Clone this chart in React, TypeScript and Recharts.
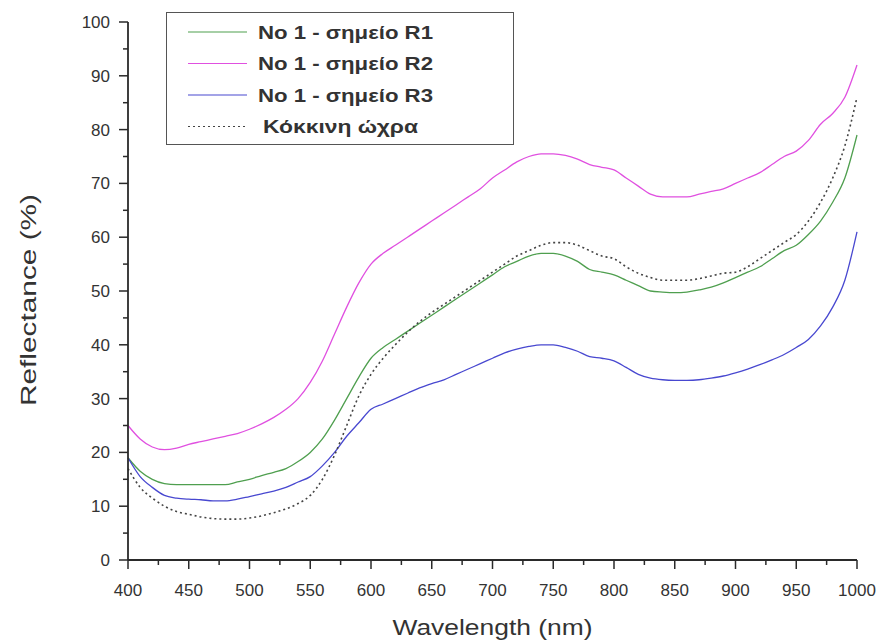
import React from 'react';
import { LineChart, Line, XAxis, YAxis, Legend, Label } from 'recharts';

// wavelength grid (nm)
const wavelengths = [
  400, 410, 420, 430, 440, 450, 460, 470, 480, 490, 500, 510, 520, 530, 540, 550, 560, 570, 580, 590,
  600, 610, 620, 630, 640, 650, 660, 670, 680, 690, 700, 710, 720, 730, 740, 750, 760, 770, 780, 790,
  800, 810, 820, 830, 840, 850, 860, 870, 880, 890, 900, 910, 920, 930, 940, 950, 960, 970, 980, 990, 1000,
];

// No 1 - σημείο R1
const r1 = [
  19, 16.5, 15, 14.2, 14, 14, 14, 14, 14, 14.5, 15, 15.7, 16.3, 17, 18.3, 20, 22.5, 26, 30, 34,
  37.5, 39.5, 41, 42.5, 44, 45.5, 47, 48.5, 50, 51.5, 53, 54.5, 55.5, 56.5, 57, 57, 56.5, 55.5, 54, 53.5,
  53, 52, 51, 50, 49.8, 49.7, 49.8, 50.2, 50.7, 51.5, 52.5, 53.5, 54.5, 56, 57.5, 58.5, 60.5, 63, 66.5, 71, 79,
];

// No 1 - σημείο R2
const r2 = [
  25, 22.5, 21, 20.5, 20.8, 21.5, 22, 22.5, 23, 23.5, 24.3, 25.3, 26.5, 28, 30, 33, 37, 42, 47, 51.5,
  55, 57, 58.5, 60, 61.5, 63, 64.5, 66, 67.5, 69, 71, 72.5, 74, 75, 75.5, 75.5, 75.2, 74.5, 73.5, 73,
  72.5, 71, 69.5, 68, 67.5, 67.5, 67.5, 68, 68.5, 69, 70, 71, 72, 73.5, 75, 76, 78, 81, 83, 86, 92,
];

// No 1 - σημείο R3
const r3 = [
  19, 15.5, 13.5, 12, 11.5, 11.3, 11.2, 11, 11, 11.3, 11.8, 12.3, 12.8, 13.5, 14.5, 15.5, 17.5, 20, 23, 25.5,
  28, 29, 30, 31, 32, 32.8, 33.5, 34.5, 35.5, 36.5, 37.5, 38.5, 39.2, 39.7, 40, 40, 39.5, 38.8, 37.8, 37.5,
  37, 35.8, 34.5, 33.8, 33.5, 33.4, 33.4, 33.5, 33.8, 34.2, 34.8, 35.5, 36.3, 37.2, 38.2, 39.5, 41, 43.5, 47, 52, 61,
];

// Κόκκινη ώχρα
const ochre = [
  17, 13.5, 11.5, 10, 9, 8.5, 8, 7.7, 7.6, 7.6, 7.8, 8.2, 8.8, 9.5, 10.5, 12, 15, 19.5, 25, 30.5,
  34.5, 37.5, 40, 42.3, 44.3, 46, 47.5, 49, 50.5, 52, 53.5, 55, 56.5, 57.5, 58.5, 59, 59, 58.5, 57.5, 56.5,
  56, 54.5, 53.3, 52.5, 52, 52, 52, 52.3, 52.8, 53.3, 53.5, 54.5, 56, 57.5, 59, 60.5, 63, 66.5, 71, 77, 86,
];

const xTicks = [400, 425, 450, 475, 500, 525, 550, 575, 600, 625, 650, 675, 700, 725, 750, 775, 800, 825, 850, 875, 900, 925, 950, 975, 1000];
const yTicks = [0, 5, 10, 15, 20, 25, 30, 35, 40, 45, 50, 55, 60, 65, 70, 75, 80, 85, 90, 95, 100];

const data = wavelengths.map((wl, i) => ({ wl, r1: r1[i], r2: r2[i], r3: r3[i], ochre: ochre[i] }));

const series = [
  { key: 'r1', name: 'No 1 - σημείο R1', color: '#4f9f4f', dash: undefined },
  { key: 'r2', name: 'No 1 - σημείο R2', color: '#e050e0', dash: undefined },
  { key: 'r3', name: 'No 1 - σημείο R3', color: '#4848d0', dash: undefined },
  { key: 'ochre', name: 'Κόκκινη ώχρα', color: '#444444', dash: '2 3' },
];

const font = '"Liberation Sans", Arial, sans-serif';
const ink = '#2a2a2a';

function XTick(props: any) {
  const { x, y, payload } = props;
  const major = payload.value % 50 === 0;
  return (
    <g>
      <line x1={x} y1={y} x2={x} y2={y + (major ? 9 : 5)} stroke={ink} strokeWidth={1.5} />
      {major && (
        <text x={x} y={y + 36} textAnchor="middle" fontSize={17} fontFamily={font} fill="#333">
          {payload.value}
        </text>
      )}
    </g>
  );
}

function YTick(props: any) {
  const { x, y, payload } = props;
  const major = payload.value % 10 === 0;
  return (
    <g>
      <line x1={x - (major ? 9 : 5)} y1={y} x2={x} y2={y} stroke={ink} strokeWidth={1.5} />
      {major && (
        <text x={x - 18} y={y + 6} textAnchor="end" fontSize={17} fontFamily={font} fill="#333">
          {payload.value}
        </text>
      )}
    </g>
  );
}

function XTitle(props: any) {
  const { viewBox } = props;
  const cx = viewBox.x + viewBox.width / 2;
  return (
    <text x={cx} y={viewBox.y + 75} textAnchor="middle" fontSize={22} fontFamily={font} fill="#333"
      textLength={200} lengthAdjust="spacingAndGlyphs">
      Wavelength (nm)
    </text>
  );
}

function YTitle() {
  return (
    <text x={0} y={0} transform="translate(36, 300) rotate(-90)" textAnchor="middle" fontSize={22}
      fontFamily={font} fill="#333" textLength={212} lengthAdjust="spacingAndGlyphs">
      Reflectance (%)
    </text>
  );
}

function LegendBox() {
  return (
    <svg width={348} height={133} style={{ display: 'block' }}>
      <rect x={0.5} y={0.5} width={347} height={132} fill="#fff" stroke="#555" strokeWidth={1} />
      {series.map((s, i) => {
        const cy = 20 + i * 31.5;
        return (
          <g key={s.key}>
            <line x1={22} y1={cy} x2={81} y2={cy} stroke={s.color} strokeWidth={1.2} strokeDasharray={s.dash} />
            <text x={s.key === 'ochre' ? 97 : 92} y={cy + 6.5} fontSize={19} fontWeight="bold" fontFamily={font}
              fill="#333" textLength={s.key === 'ochre' ? 155 : 175} lengthAdjust="spacingAndGlyphs">
              {s.name}
            </text>
          </g>
        );
      })}
    </svg>
  );
}

export default function App() {
  return (
    <div style={{ position: 'absolute', left: 0, top: 0, width: 881, height: 643, background: '#fff' }}>
      <LineChart width={881} height={643} data={data} margin={{ top: 22, right: 24, bottom: 23, left: 68 }}>
        <XAxis
          dataKey="wl"
          type="number"
          domain={[400, 1000]}
          ticks={xTicks}
          interval={0}
          tickSize={0}
          tickMargin={0}
          tickLine={false}
          tick={<XTick />}
          axisLine={{ stroke: ink, strokeWidth: 1.8 }}
          height={60}
        >
          <Label content={<XTitle />} />
        </XAxis>
        <YAxis
          type="number"
          domain={[0, 100]}
          ticks={yTicks}
          interval={0}
          tickSize={0}
          tickMargin={0}
          tickLine={false}
          tick={<YTick />}
          axisLine={{ stroke: ink, strokeWidth: 1.8 }}
          width={60}
        >
          <Label content={<YTitle />} />
        </YAxis>
        <Legend
          layout="vertical"
          align="center"
          verticalAlign="middle"
          wrapperStyle={{ left: 166, top: 12, width: 348, height: 133 }}
          content={<LegendBox />}
        />
        {series.map((s) => (
          <Line
            key={s.key}
            type="monotone"
            dataKey={s.key}
            name={s.name}
            stroke={s.color}
            strokeWidth={s.dash ? 1.6 : 1.3}
            strokeDasharray={s.dash}
            dot={false}
            isAnimationActive={false}
          />
        ))}
      </LineChart>
    </div>
  );
}
